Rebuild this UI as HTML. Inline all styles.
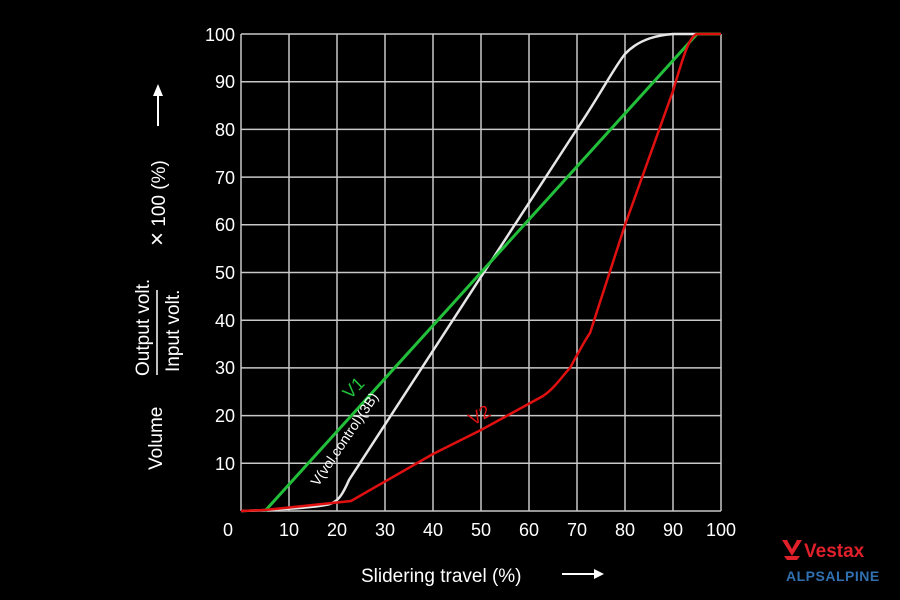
<!DOCTYPE html>
<html><head><style>body{margin:0;background:#000}svg{display:block}</style></head><body>
<svg width="900" height="600" viewBox="0 0 900 600" xmlns="http://www.w3.org/2000/svg" font-family="Liberation Sans, sans-serif">
<rect width="900" height="600" fill="#000"/>
<g stroke="#c8c8c8" stroke-width="1.5" fill="none">
<path d="M241 34V511M289 34V511M337 34V511M385 34V511M433 34V511M481 34V511M529 34V511M577 34V511M625 34V511M673 34V511M721 34V511"/>
<path d="M241 34H721M241 81.7H721M241 129.4H721M241 177.1H721M241 224.8H721M241 272.5H721M241 320.2H721M241 367.9H721M241 415.6H721M241 463.3H721M241 511H721"/>
</g>
<g fill="#fff" font-size="18" text-anchor="end">
<text x="235" y="41">100</text><text x="235" y="88">90</text><text x="235" y="136">80</text><text x="235" y="184">70</text><text x="235" y="231">60</text><text x="235" y="279">50</text><text x="235" y="327">40</text><text x="235" y="374">30</text><text x="235" y="422">20</text><text x="235" y="470">10</text>
</g>
<g fill="#fff" font-size="18" text-anchor="middle">
<text x="228" y="536">0</text><text x="289" y="536">10</text><text x="337" y="536">20</text><text x="385" y="536">30</text><text x="433" y="536">40</text><text x="481" y="536">50</text><text x="529" y="536">60</text><text x="577" y="536">70</text><text x="625" y="536">80</text><text x="673" y="536">90</text><text x="721" y="536">100</text>
</g>
<text x="361" y="582" fill="#fff" font-size="19">Slidering travel (%)</text>
<path d="M562 574H596" stroke="#fff" stroke-width="2"/><path d="M604 574L594 569V579Z" fill="#fff"/>
<g fill="#fff" font-size="19">
<text transform="translate(162,470) rotate(-90)">Volume</text>
<text transform="translate(149,376) rotate(-90)">Output volt.</text>
<text transform="translate(179,372) rotate(-90)">Input volt.</text>
<text transform="translate(165,246) rotate(-90)"><tspan font-size="24">×</tspan> 100 (%)</text>
</g>
<path d="M157 290V375" stroke="#fff" stroke-width="1.5"/>
<path d="M158 126V94" stroke="#fff" stroke-width="2"/><path d="M158 84L153 96H163Z" fill="#fff"/>
<path d="M241 511 C270 510 315 508 330 504 C338 501 342 496 349 480 L577 129 C600 95 615 66 625 54 C640 38 660 35 673 34 L721 34" stroke="#e6e6e6" stroke-width="2.5" fill="none"/>
<path d="M265 511 L697 34 L721 34" stroke="#22c03a" stroke-width="3" fill="none"/>
<path d="M241 511 L265 510 L351 501 L433 454 L481 430 L543 396 C555 388 563 375 570 368 C577 355 585 340 590 333 L625 225 L673 91 C685 50 690 36 697 34 L721 34" stroke="#e01010" stroke-width="2.5" fill="none"/>
<text transform="translate(350,400) rotate(-45)" fill="#22c03a" font-size="18">V1</text>
<text transform="translate(473,426) rotate(-30)" fill="#e01010" font-size="18">V2</text>
<text transform="translate(318,487) rotate(-56)" fill="#fff" font-size="14">V(vol.control)(3B)</text>
<g fill="#e0202a">
<path d="M782 540 L792 556 L802 540 L797 540 L792 549 L787 540Z"/>
<path d="M784 556 L800 556 L797 560 L787 560Z"/>
</g>
<text x="804" y="557" fill="#e0202a" font-size="19" font-weight="bold">Vestax</text>
<text x="786" y="581" fill="#3070b0" font-size="14" font-weight="bold" letter-spacing="0.5">ALPSALPINE</text>
</svg>
</body></html>
